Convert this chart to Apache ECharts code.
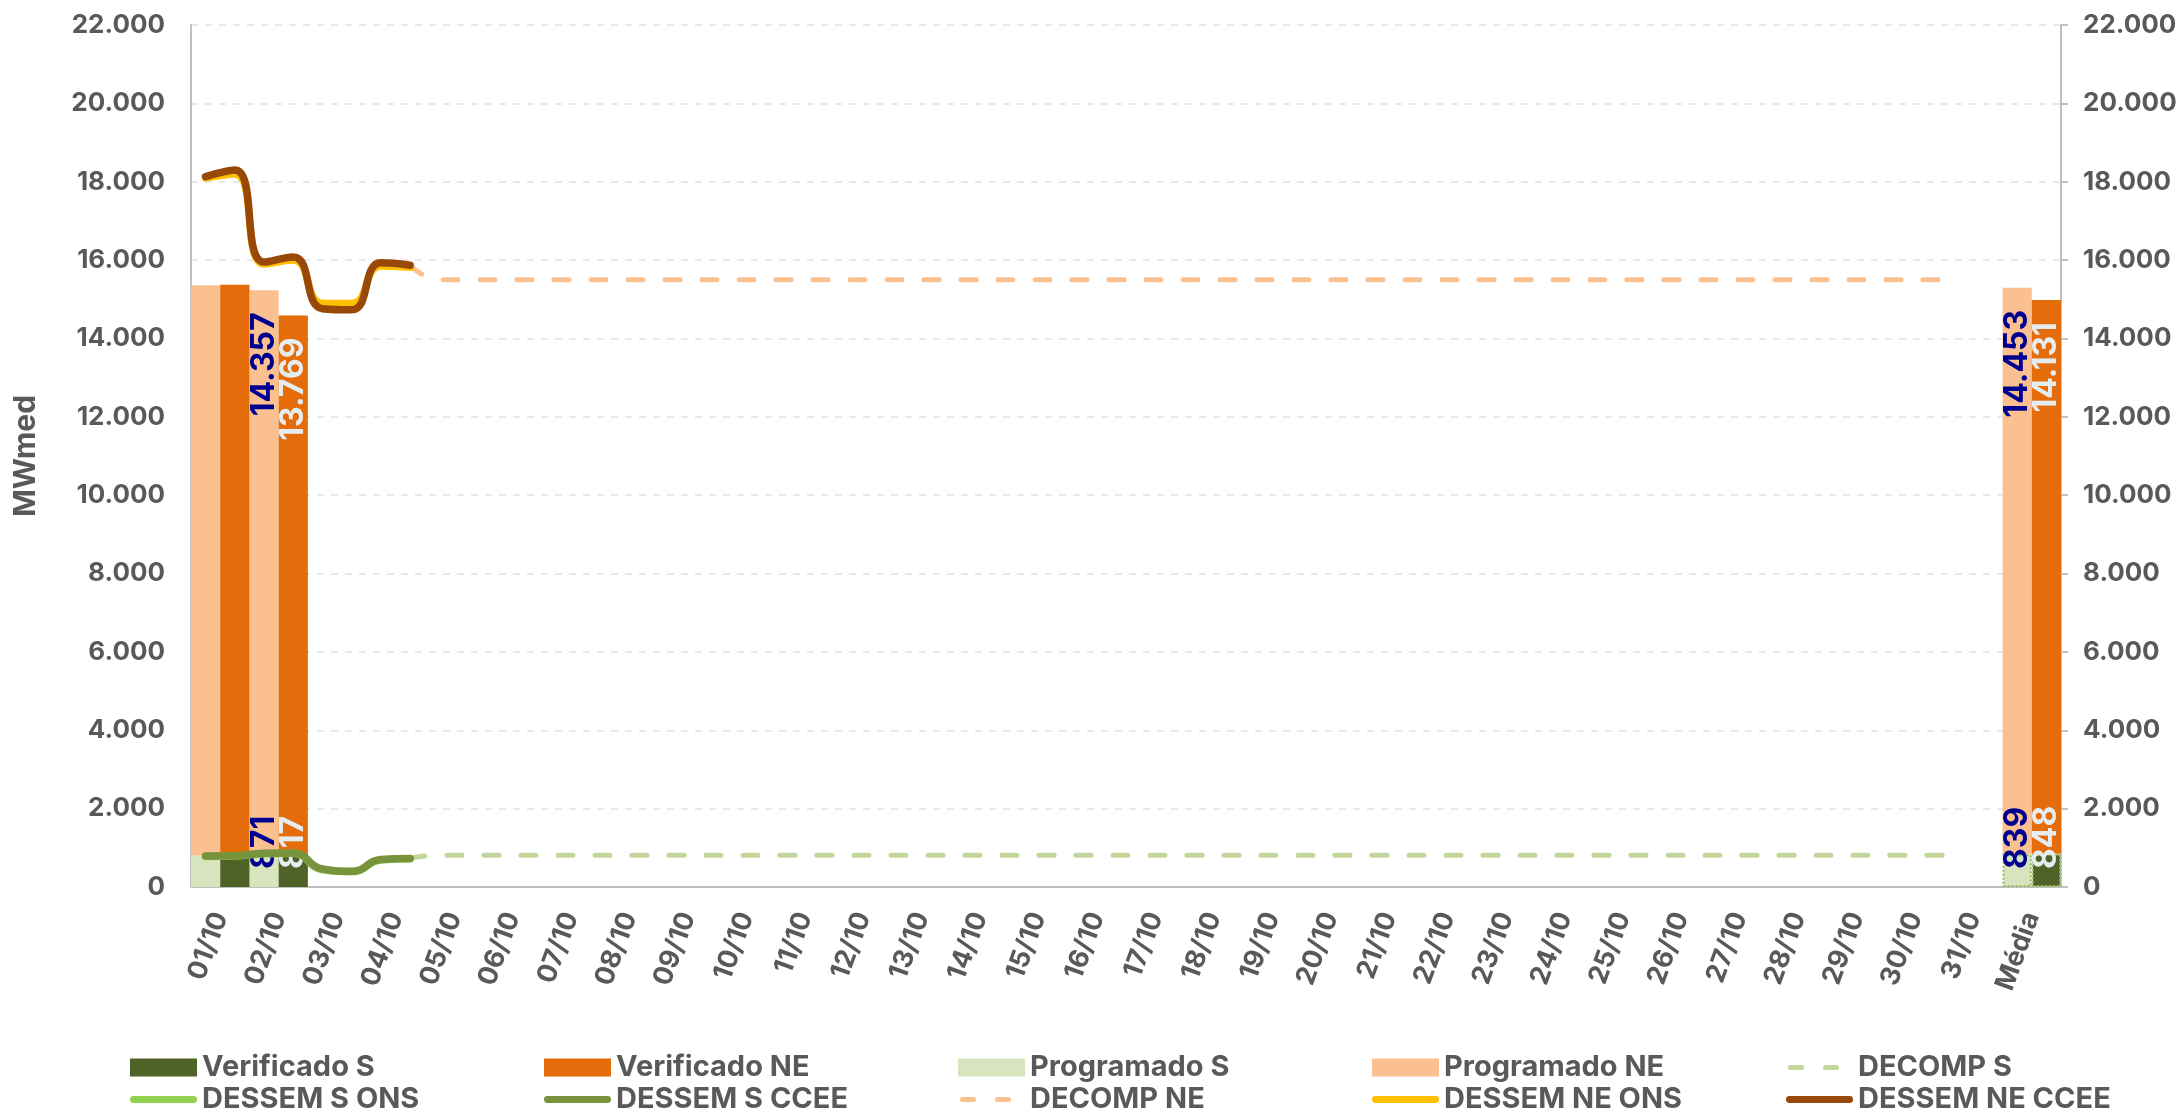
<!DOCTYPE html>
<html>
<head>
<meta charset="utf-8">
<script src="https://cdn.jsdelivr.net/npm/echarts@6/dist/echarts.min.js"></script>
<style>
html,body{margin:0;padding:0;background:#fff;}
#chart{width:2184px;height:1115px;}
</style>
</head>
<body>
<div id="chart"></div>
<script>
// ---- Data ----
const categories = ['01/10','02/10','03/10','04/10','05/10','06/10','07/10','08/10','09/10','10/10',
  '11/10','12/10','13/10','14/10','15/10','16/10','17/10','18/10','19/10','20/10',
  '21/10','22/10','23/10','24/10','25/10','26/10','27/10','28/10','29/10','30/10','31/10','Média'];

const yTicks = [0,2000,4000,6000,8000,10000,12000,14000,16000,18000,20000,22000];

const verificadoS  = [879, 817, null,null,null,null,null,null,null,null,null,null,null,null,null,null,null,null,null,null,null,null,null,null,null,null,null,null,null,null,null, 848];
const verificadoNE = [14493, 13769, null,null,null,null,null,null,null,null,null,null,null,null,null,null,null,null,null,null,null,null,null,null,null,null,null,null,null,null,null, 14131];
const programadoS  = [807, 871, null,null,null,null,null,null,null,null,null,null,null,null,null,null,null,null,null,null,null,null,null,null,null,null,null,null,null,null,null, 839];
const programadoNE = [14549, 14357, null,null,null,null,null,null,null,null,null,null,null,null,null,null,null,null,null,null,null,null,null,null,null,null,null,null,null,null,null, 14453];

// days whose bars carry value labels
const labelDays = ['02/10','Média'];

// half-day series (two points per day)
const dessemSOns  = [780, 790, 850, 860, 440, 390, 690, 720];
const dessemSCcee = [790, 800, 860, 870, 460, 400, 700, 730];
const dessemNeOns  = [18100, 18200, 15900, 16000, 14900, 14890, 15850, 15820];
const dessemNeCcee = [18130, 18300, 15950, 16080, 14760, 14730, 15930, 15870];
const decompS = [null,null,null,null,null,null,null, 740,
  810,810,810,810,810,810,810,810,810,810,
  810,810,810,810,810,810,810,810,810,810,
  810,810,810,810,810,810,810,810,810,810,
  810,810,810,810,810,810,810,810,810,810,
  810,810,810,810,810,810,810,810,810,810,
  810,810,810];
const decompNE = [null,null,null,null,null,null,null, 15870,
  15500,15500,15500,15500,15500,15500,15500,15500,15500,15500,
  15500,15500,15500,15500,15500,15500,15500,15500,15500,15500,
  15500,15500,15500,15500,15500,15500,15500,15500,15500,15500,
  15500,15500,15500,15500,15500,15500,15500,15500,15500,15500,
  15500,15500,15500,15500,15500,15500,15500,15500,15500,15500,
  15500,15500,15500];

const halfDays = categories.flatMap(c => [c + ' 00h', c + ' 12h']);

// ---- Helpers ----
function fmt(v){ return String(Math.round(v)).replace(/\B(?=(\d{3})+(?!\d))/g,'.'); }
const FONT = 'Inter, "Noto Sans", sans-serif';
const TXT = '#595959';

const ICON_SOLID = 'path://M0,0M67,18M3,5.5h61a3.5,3.5 0 0 1 0,7h-61a3.5,3.5 0 0 1 0,-7z';
const ICON_DASH  = 'path://M0,0M67,18M4.5,6.5h11a2.5,2.5 0 0 1 0,5h-11a2.5,2.5 0 0 1 0,-5zM39.5,6.5h11a2.5,2.5 0 0 1 0,5h-11a2.5,2.5 0 0 1 0,-5z';

function barData(values, isS, borderColor){
  return values.map((v,i) => {
    const item = {value: v};
    if (labelDays.includes(categories[i])) item.label = {show: true};
    if (isS && categories[i] === 'Média') item.itemStyle = {borderColor: borderColor, borderType: 'dotted', borderWidth: 2};
    return item;
  });
}
function barLabel(color, bottom){
  return {
    show: false, rotate: 90,
    position: bottom ? 'insideBottom' : 'insideTop',
    align: bottom ? 'left' : 'right', verticalAlign: 'middle',
    distance: bottom ? 18 : 22,
    color: color, fontFamily: FONT, fontWeight: 'bold', fontSize: 32,
    formatter: p => fmt(p.value)
  };
}
function barSeries(name, stack, color, values, isS, labelColor){
  return {
    name, type: 'bar', stack, xAxisIndex: 0, yAxisIndex: 0,
    barGap: '0%', barCategoryGap: '0%',
    itemStyle: {color},
    label: barLabel(labelColor, isS),
    data: barData(values, isS, isS ? '#9BBB59' : null),
    z: 2
  };
}
function lineSeries(name, color, values, dashed){
  return {
    name, type: 'line', xAxisIndex: 1, yAxisIndex: 0,
    smooth: true, symbol: 'none', connectNulls: false,
    lineStyle: dashed ? {color, width: 5, type: [15,22], cap: 'round'} : {color, width: 7.5, cap: 'round'},
    itemStyle: {color},
    data: values, z: 5
  };
}
function lineLegend(name, color, dashed){
  return {name, icon: dashed ? ICON_DASH : ICON_SOLID, itemStyle: {color, borderWidth: 0}};
}

const chart = echarts.init(document.getElementById('chart'), null, {renderer: 'canvas'});
const option = {
  animation: false,
  backgroundColor: '#fff',
  grid: {left: 191, right: 123, top: 25, bottom: 228, containLabel: false},
  legend: {
    left: 125, top: 1048, width: 2100,
    itemWidth: 67, itemHeight: 18, itemGap: 3,
    textStyle: {color: TXT, fontFamily: FONT, fontWeight: 'bold', fontSize: 29, lineHeight: 28, width: 339, overflow: 'none'},
    data: [
      {name: 'Verificado S', icon: 'rect'},
      {name: 'Verificado NE', icon: 'rect'},
      {name: 'Programado S', icon: 'rect'},
      {name: 'Programado NE', icon: 'rect'},
      lineLegend('DECOMP S', '#C3D69B', true),
      lineLegend('DESSEM S ONS', '#92D050', false),
      lineLegend('DESSEM S CCEE', '#77933C', false),
      lineLegend('DECOMP NE', '#FAC090', true),
      lineLegend('DESSEM NE ONS', '#FFC000', false),
      lineLegend('DESSEM NE CCEE', '#984807', false)
    ]
  },
  xAxis: [
    {
      type: 'category', data: categories, boundaryGap: true,
      axisLine: {show: true, lineStyle: {color: '#BFBFBF', width: 2}},
      axisTick: {show: false},
      axisLabel: {rotate: 70, margin: 26, color: TXT, fontFamily: FONT, fontWeight: 'bold', fontSize: 27, interval: 0}
    },
    {
      type: 'category', data: halfDays, boundaryGap: true, show: false
    }
  ],
  yAxis: [
    {
      type: 'value', min: yTicks[0], max: yTicks[yTicks.length-1], interval: 2000,
      name: 'MWmed', nameLocation: 'middle', nameGap: 150, nameRotate: 90,
      nameTextStyle: {color: TXT, fontFamily: FONT, fontWeight: 'bold', fontSize: 30},
      axisLine: {show: true, lineStyle: {color: '#BFBFBF', width: 2}},
      axisTick: {show: false},
      axisLabel: {margin: 26, color: TXT, fontFamily: FONT, fontWeight: 'bold', fontSize: 26, formatter: v => fmt(v)},
      splitLine: {show: true, lineStyle: {color: '#DCE4E8', width: 1.5, type: [7,7]}}
    },
    {
      type: 'value', position: 'right', min: yTicks[0], max: yTicks[yTicks.length-1], interval: 2000,
      axisLine: {show: true, lineStyle: {color: '#BFBFBF', width: 2}},
      axisTick: {show: true, length: 7, lineStyle: {color: '#BFBFBF', width: 2}},
      axisLabel: {margin: 22, color: TXT, fontFamily: FONT, fontWeight: 'bold', fontSize: 26, formatter: v => fmt(v)},
      splitLine: {show: false}
    }
  ],
  series: [
    barSeries('Programado S', 'prog', '#D7E4BD', programadoS, true, '#000090'),
    barSeries('Programado NE', 'prog', '#FAC090', programadoNE, false, '#000090'),
    barSeries('Verificado S', 'ver', '#4F6228', verificadoS, true, '#E6EDF0'),
    barSeries('Verificado NE', 'ver', '#E46C0A', verificadoNE, false, '#E6EDF0'),
    lineSeries('DECOMP S', '#C3D69B', decompS, true),
    lineSeries('DESSEM S ONS', '#92D050', dessemSOns, false),
    lineSeries('DESSEM S CCEE', '#77933C', dessemSCcee, false),
    lineSeries('DECOMP NE', '#FAC090', decompNE, true),
    lineSeries('DESSEM NE ONS', '#FFC000', dessemNeOns, false),
    lineSeries('DESSEM NE CCEE', '#984807', dessemNeCcee, false)
  ]
};
chart.setOption(option);
</script>
</body>
</html>
